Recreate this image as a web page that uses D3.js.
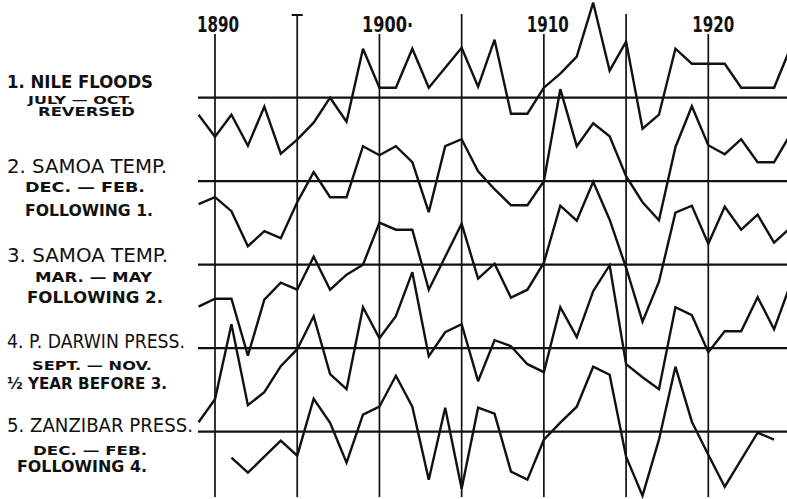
<!DOCTYPE html>
<html>
<head>
<meta charset="utf-8">
<script src="https://cdn.jsdelivr.net/npm/d3@7"></script>
<style>
  body { margin: 0; background: #fff; }
  svg { display: block; }
  text { font-family: "DejaVu Sans", sans-serif; fill: #111; }
</style>
</head>
<body>
<div id="chart"></div>
<script>
// years along the top, one point per year
var years = [1889, 1890, 1891, 1892, 1893, 1894, 1895, 1896, 1897, 1898, 1899,
  1900, 1901, 1902, 1903, 1904, 1905, 1906, 1907, 1908, 1909,
  1910, 1911, 1912, 1913, 1914, 1915, 1916, 1917, 1918, 1919,
  1920, 1921, 1922, 1923, 1924, 1925];

var gridYears = [1890, 1895, 1900, 1905, 1910, 1915, 1920];
var yearLabels = ["1890", "1900·", "1910", "1920"];
var labelledYears = [1890, 1900, 1910, 1920];

// departures from each baseline (arbitrary units, up = positive)
var nile = [-1.7, -3.9, -1.7, -4.8, -0.9, -5.6, -4.2, -2.5, 0.0, -2.4, 4.9,
  1.0, 1.0, 4.9, 1.0, 3.0, 5.0, 1.1, 5.8, -1.6, -1.6,
  1.0, 2.4, 4.1, 9.5, 2.7, 5.6, -3.1, -1.7, 4.9, 3.4,
  3.4, 3.4, 1.0, 1.0, 1.0, 5.0];
var samoaDJF = [-2.3, -1.6, -3.0, -6.5, -5.0, -5.7, -2.1, 0.9, -1.6, -1.6, 3.5,
  2.6, 3.5, 1.9, -3.1, 3.5, 4.2, 1.0, -0.8, -2.4, -2.4,
  0.0, 9.2, 3.5, 5.8, 4.5, 0.5, -2.1, -3.9, 3.4, 7.5,
  3.6, 2.7, 4.2, 1.9, 1.9, 4.7];
var samoaMAM = [-4.2, -3.4, -3.4, -9.1, -3.5, -1.8, -2.5, 0.8, -2.5, -1.0, 0.0,
  4.2, 3.5, 3.5, -2.5, 0.8, 4.1, -1.4, 0.1, -3.3, -2.5,
  0.2, 5.9, 4.4, 8.3, 4.5, -0.3, -5.7, -1.7, 5.2, 5.9,
  2.1, 5.8, 3.5, 5.0, 2.2, 3.7];
var darwin = [-7.4, -5.1, 2.4, -5.7, -4.4, -1.8, -0.1, 3.2, -2.6, -4.1, 4.1,
  1.0, 3.2, 7.6, -0.8, 1.6, 2.4, -3.3, 0.8, 0.2, -1.6,
  -2.4, 4.1, 1.1, 5.7, 8.3, -1.6, -2.9, -4.1, 4.1, 3.3,
  -0.4, 1.7, 1.7, 5.1, 1.9, 6.4];
var zanzibar = [null, null, -2.6, -4.1, -2.5, -0.9, -2.4, 3.3, 0.9, -3.1, 1.7,
  2.5, 5.6, 2.5, -4.8, 2.4, -5.7, 2.4, 1.8, -4.0, -4.8,
  -0.8, 0.9, 2.5, 6.5, 5.7, -2.5, -6.4, -0.8, 6.5, 1.0,
  -2.3, -5.5, -2.8, -0.1, -0.8, null];

var seriesNames = ["nile", "samoaDJF", "samoaMAM", "darwin", "zanzibar"];
var seriesValues = [nile, samoaDJF, samoaMAM, darwin, zanzibar];

var titles = ["1. NILE FLOODS", "2. SAMOA TEMP.", "3. SAMOA TEMP.", "4. P. DARWIN PRESS.", "5. ZANZIBAR PRESS."];
var subLines1 = ["JULY — OCT.", "DEC. — FEB.", "MAR. — MAY", "SEPT. — NOV.", "DEC. — FEB."];
var subLines2 = ["REVERSED", "FOLLOWING 1.", "FOLLOWING 2.", "½ YEAR BEFORE 3.", "FOLLOWING 4."];

// label layout: [centre dy from baseline, x start, width, font size] for title / sub1 / sub2
var labelLayout = [
  [[-16, 7, 146, 17.5], [2.3, 28, 105, 10], [13.8, 38, 97, 11.5]],
  [[-15.5, 7, 160, 20], [6, 25, 120, 14], [29.5, 25, 128, 15.5]],
  [[-9.5, 7, 161, 20], [12, 35, 117, 13.5], [32.5, 27, 136, 16]],
  [[-7.5, 7, 178, 20], [17, 32, 120, 13], [35.5, 7, 160, 15.5]],
  [[-6.5, 7, 186, 20], [19, 33, 114, 12.5], [34.5, 17, 130, 16]]
];

var width = 787, height = 499;
var left = 198;

var svg = d3.select("#chart").append("svg")
  .attr("width", width)
  .attr("height", height);

var x = d3.scaleLinear().domain([1890, 1920]).range([215, 708.3]);
var band = d3.scalePoint().domain(seriesNames).range([97.7, 431.7]);
var dev = d3.scaleLinear().domain([-10, 10]).range([100, -100]);

svg.append("clipPath").attr("id", "plot")
  .append("rect")
    .attr("x", left - 1)
    .attr("y", 0)
    .attr("width", width - left + 1)
    .attr("height", height);

// vertical year lines
svg.append("g")
  .selectAll("line")
  .data(gridYears)
  .enter()
    .append("line")
    .attr("x1", d => x(d))
    .attr("x2", d => x(d))
    .attr("y1", d => labelledYears.indexOf(d) >= 0 ? 34 : 14)
    .attr("y2", 497)
    .attr("stroke", "#111")
    .attr("stroke-width", 1.7);

// the little cross bar on top of the 1895 line
svg.append("line")
  .attr("x1", x(1895) - 5.5)
  .attr("x2", x(1895) + 5.5)
  .attr("y1", 15)
  .attr("y2", 15)
  .attr("stroke", "#111")
  .attr("stroke-width", 2);

svg.append("g")
  .selectAll("text")
  .data(labelledYears)
  .enter()
    .append("text")
    .attr("x", (d, i) => x(d) - [18, 17.4, 17, 16][i])
    .attr("y", 32)
    .attr("font-size", 21.5)
    .attr("font-weight", "bold")
    .attr("textLength", (d, i) => i == 1 ? 51 : 42)
    .attr("lengthAdjust", "spacingAndGlyphs")
    .text((d, i) => yearLabels[i]);

// baselines
svg.append("g")
  .selectAll("line")
  .data(seriesNames)
  .enter()
    .append("line")
    .attr("x1", left)
    .attr("x2", width)
    .attr("y1", d => band(d))
    .attr("y2", d => band(d))
    .attr("stroke", "#111")
    .attr("stroke-width", 2.2);

// the five curves
var plot = svg.append("g").attr("clip-path", "url(#plot)");

seriesNames.forEach(function(name, i) {
  var line = d3.line()
    .defined(d => d.v != null)
    .x(d => x(d.year))
    .y(d => band(name) + dev(d.v));

  var pts = years.map((yr, j) => ({year: yr, v: seriesValues[i][j]}));

  plot.append("path")
    .datum(pts)
    .attr("d", line)
    .attr("fill", "none")
    .attr("stroke", "#111")
    .attr("stroke-width", 2.4)
    .attr("stroke-linejoin", "miter")
    .attr("stroke-miterlimit", 3);
});

// row labels
seriesNames.forEach(function(name, i) {
  var texts = [titles[i], subLines1[i], subLines2[i]];
  texts.forEach(function(t, k) {
    var lay = labelLayout[i][k];
    var fs = lay[3];
    svg.append("text")
      .attr("x", lay[1])
      .attr("y", band(name) + lay[0] + fs * 0.36)
      .attr("font-size", fs)
      .attr("font-weight", (k == 0 && i > 0) ? "normal" : "bold")
      .attr("textLength", lay[2])
      .attr("lengthAdjust", "spacingAndGlyphs")
      .text(t);
  });
});
</script>
</body>
</html>
